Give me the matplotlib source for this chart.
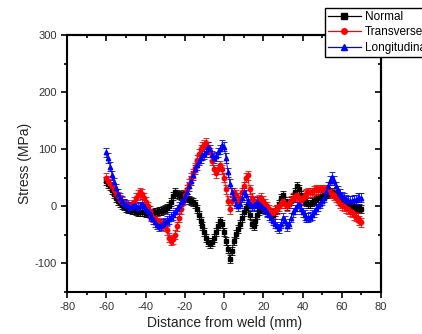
import matplotlib
matplotlib.use("Agg")
import matplotlib.pyplot as plt
from matplotlib.lines import Line2D
from matplotlib.ticker import MultipleLocator

plt.rcParams["font.family"] = ["Liberation Sans", "DejaVu Sans"]
plt.rcParams["axes.unicode_minus"] = False

# distance from weld (mm), sampled every 1 mm
distance = list(range(-60, 71))

normal = [
    45, 40, 35, 28, 22, 15, 10, 6, 3, 0,            # -60 .. -51
    -2, -4, -5, -6, -7, -8, -9, -9, -10, -10,       # -50 .. -41
    -12, -12, -11, -12, -11, -10, -10, -8, -8, -7,  # -40 .. -31
    -5, -3, 0, 8, 18, 25, 22, 20, 18, 22,           # -30 .. -21
    20, 15, 12, 10, 8, 5, -5, -15, -25, -35,        # -20 .. -11
    -45, -55, -63, -66, -62, -55, -45, -35, -25, -30,  # -10 .. -1
    -45, -60, -75, -92, -78, -60, -48, -40, -30, -20,  # 0 .. 9
    -10, -3, 0, -15, -30, -35, -25, -15, -8, -5,    # 10 .. 19
    0, -5, -10, -10, -12, -15, -10, -5, 5, 15,      # 20 .. 29
    20, 10, 0, 5, 10, 15, 25, 35, 30, 20,           # 30 .. 39
    12, 10, 8, 5, 5, 8, 10, 12, 15, 15,             # 40 .. 49
    18, 20, 22, 22, 25, 25, 22, 20, 18, 15,         # 50 .. 59
    12, 10, 8, 5, 2, 0, -2, -5, -5, -3,             # 60 .. 69
    -5,                                             # 70
]

transverse = [
    50, 45, 40, 35, 28, 22, 18, 12, 8, 5,           # -60 .. -51
    2, 0, 0, 3, 8, 15, 20, 25, 22, 15,              # -50 .. -41
    8, 0, -8, -15, -20, -22, -25, -28, -30, -32,    # -40 .. -31
    -35, -42, -55, -60, -58, -50, -35, -20, -5, 10, # -30 .. -21
    20, 30, 40, 50, 58, 68, 82, 92, 100, 105,       # -20 .. -11
    108, 112, 105, 95, 80, 65, 58, 65, 72, 65,      # -10 .. -1
    50, 30, 10, -5, 10, 25, 20, 10, 15, 25,         # 0 .. 9
    35, 50, 55, 30, 15, 8, 5, 10, 12, 15,           # 10 .. 19
    10, 5, 0, -5, -10, -12, -8, -5, 0, 5,           # 20 .. 29
    10, 5, 0, 5, 10, 15, 18, 20, 15, 12,            # 30 .. 39
    15, 20, 22, 25, 25, 25, 28, 30, 28, 30,         # 40 .. 49
    30, 28, 30, 30, 25, 22, 20, 15, 10, 5,          # 50 .. 59
    2, 0, -3, -5, -8, -10, -15, -18, -20, -25,      # 60 .. 69
    -28,                                            # 70
]

longitudinal = [
    95, 85, 70, 55, 42, 32, 22, 15, 10, 5,          # -60 .. -51
    3, 0, -2, 0, 2, 0, -2, 0, 5, 0,                 # -50 .. -41
    -5, -8, -12, -18, -22, -28, -32, -35, -33, -30, # -40 .. -31
    -28, -25, -22, -18, -15, -10, -5, 0, 8, 12,     # -30 .. -21
    18, 25, 35, 45, 55, 65, 72, 80, 85, 90,         # -20 .. -11
    92, 95, 105, 100, 90, 85, 88, 95, 100, 108,     # -10 .. -1
    105, 85, 60, 40, 25, 15, 5, 0, 5, 15,           # 0 .. 9
    25, 20, 10, 5, 0, 2, 5, 8, 5, 0,                # 10 .. 19
    -2, -5, -10, -15, -20, -25, -30, -35, -38, -30, # 20 .. 29
    -20, -25, -35, -30, -20, -10, -5, 0, 5, -5,     # 30 .. 39
    -10, -15, -20, -20, -18, -15, -10, -5, 0, 5,    # 40 .. 49
    10, 15, 25, 35, 45, 52, 45, 35, 28, 22,         # 50 .. 59
    18, 15, 12, 10, 10, 10, 12, 12, 15, 15,         # 60 .. 69
    15,                                             # 70
]

err_normal = 7
err_transverse = 8
err_longitudinal = 8

fig = plt.figure(figsize=(4.22, 3.34), dpi=100)
ax = fig.add_axes([0.159, 0.126, 0.744, 0.768])

series = [
    ("Normal", normal, err_normal, "black", "s"),
    ("Transverse", transverse, err_transverse, "red", "o"),
    ("Longitudinal", longitudinal, err_longitudinal, "blue", "^"),
]
handles = []
for label, values, err, color, marker in series:
    ax.errorbar(
        distance, values, yerr=err,
        color=color, marker=marker, markersize=3.2, linewidth=0.7,
        elinewidth=0.6, capsize=2.2, capthick=0.6,
    )
    handles.append(Line2D([], [], color=color, marker=marker,
                          markersize=4, linewidth=0.9))

ax.set_xlim(-80, 80)
ax.set_ylim(-150, 300)
ax.xaxis.set_major_locator(MultipleLocator(20))
ax.xaxis.set_minor_locator(MultipleLocator(10))
ax.yaxis.set_major_locator(MultipleLocator(100))
ax.yaxis.set_minor_locator(MultipleLocator(50))
ax.tick_params(which="both", direction="out", labelsize=8, colors="black",
               labelcolor="#333333", width=1.2)
ax.tick_params(which="major", length=4)
ax.tick_params(which="minor", length=2.5)
for s in ax.spines.values():
    s.set_linewidth(1.5)

# inward ticks on top and right, as in Origin
ax_top = ax.secondary_xaxis("top")
ax_top.xaxis.set_major_locator(MultipleLocator(20))
ax_top.xaxis.set_minor_locator(MultipleLocator(10))
ax_top.tick_params(which="both", direction="in", labeltop=False, width=1.2)
ax_top.tick_params(which="major", length=4)
ax_top.tick_params(which="minor", length=2.5)
ax_top.spines["top"].set_linewidth(1.5)
ax_right = ax.secondary_yaxis("right")
ax_right.yaxis.set_major_locator(MultipleLocator(100))
ax_right.yaxis.set_minor_locator(MultipleLocator(50))
ax_right.tick_params(which="both", direction="in", labelright=False, width=1.2)
ax_right.tick_params(which="major", length=4)
ax_right.tick_params(which="minor", length=2.5)
ax_right.spines["right"].set_linewidth(1.5)

ax.set_xlabel("Distance from weld (mm)", fontsize=10, color="#222222", labelpad=3)
ax.set_ylabel("Stress (MPa)", fontsize=10, color="#222222", labelpad=2)

leg = fig.legend(
    handles=handles, labels=[s[0] for s in series],
    loc="upper left", bbox_to_anchor=(325 / 422, 1 - 8 / 334),
    fontsize=8.5, frameon=True, fancybox=False, edgecolor="black",
    framealpha=1, borderpad=0.25, labelspacing=0.3, handlelength=2.8,
    handletextpad=0.3, borderaxespad=0,
)
leg.get_frame().set_linewidth(1.0)

fig.savefig("out.png", dpi=100)
